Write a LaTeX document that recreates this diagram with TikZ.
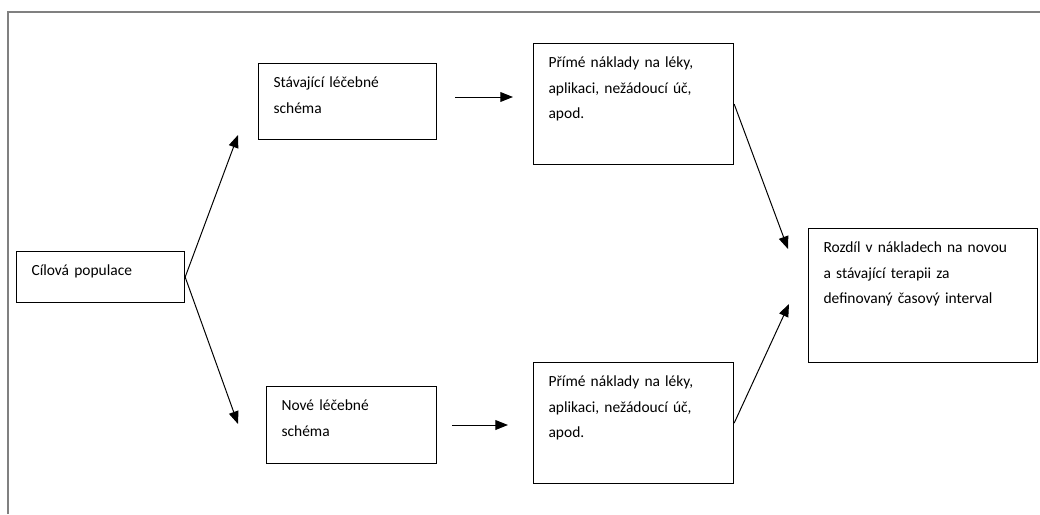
\documentclass[tikz,border=0pt]{standalone}
\usepackage{fontspec}
\setmainfont{Carlito}
\usetikzlibrary{arrows.meta}
\tikzset{%
    box/.style={draw, line width=0.8pt, anchor=north west, align=left,
        inner xsep=0.375cm, inner ysep=0.25cm, text height=0.36cm,
        font=\fontsize{11}{18}\selectfont},
    arr/.style={line width=0.7pt, -{Triangle[length=9pt,width=7pt]}},
    frm/.style={line width=0.8pt, draw=gray}
}

\begin{document}
\begin{tikzpicture}[x=0.025cm,y=-0.025cm]
    \useasboundingbox (0,0) rectangle (1040,514);
    \draw [frm](8,514)|-(1040,12);
    % boxes
    \node [box,text width=3.45cm,text depth=0.415cm] (cil) at (16,251){Cílová populace};
    \node [box,text width=3.7cm,text depth=1.04cm] (stav) at (258,63){Stávající léčebné\\schéma};
    \node [box,text width=3.5cm,text depth=1.065cm] (nove) at (266,386){Nové léčebné\\schéma};
    \node [box,text width=4.25cm,text depth=2.165cm] (nakS) at (533,43){Přímé náklady na léky,\\aplikaci, nežádoucí úč,\\apod.};
    \node [box,text width=4.25cm,text depth=2.165cm] (nakN) at (533,362){Přímé náklady na léky,\\aplikaci, nežádoucí úč,\\apod.};
    \node [box,text width=4.975cm,text depth=2.49cm] (rozd) at (808,228){Rozdíl v nákladech na novou\\a stávající terapii za\\definovaný časový interval};
    % free arrow ends
    \coordinate (tipS) at (238,135);
    \coordinate (tipN) at (238,424);
    \coordinate (hS1) at (455,97);
    \coordinate (hS2) at (513,97);
    \coordinate (hN1) at (452,425);
    \coordinate (hN2) at (508,425);
    \coordinate (tipR1) at (788,249);
    \coordinate (tipR2) at (789,304);
    \draw [arr](cil.east)--(tipS);
    \draw [arr](cil.east)--(tipN);
    \draw [arr](hS1)--(hS2);
    \draw [arr](hN1)--(hN2);
    \draw [arr](nakS.east)--(tipR1);
    \draw [arr](nakN.east)--(tipR2);
\end{tikzpicture}
\end{document}
